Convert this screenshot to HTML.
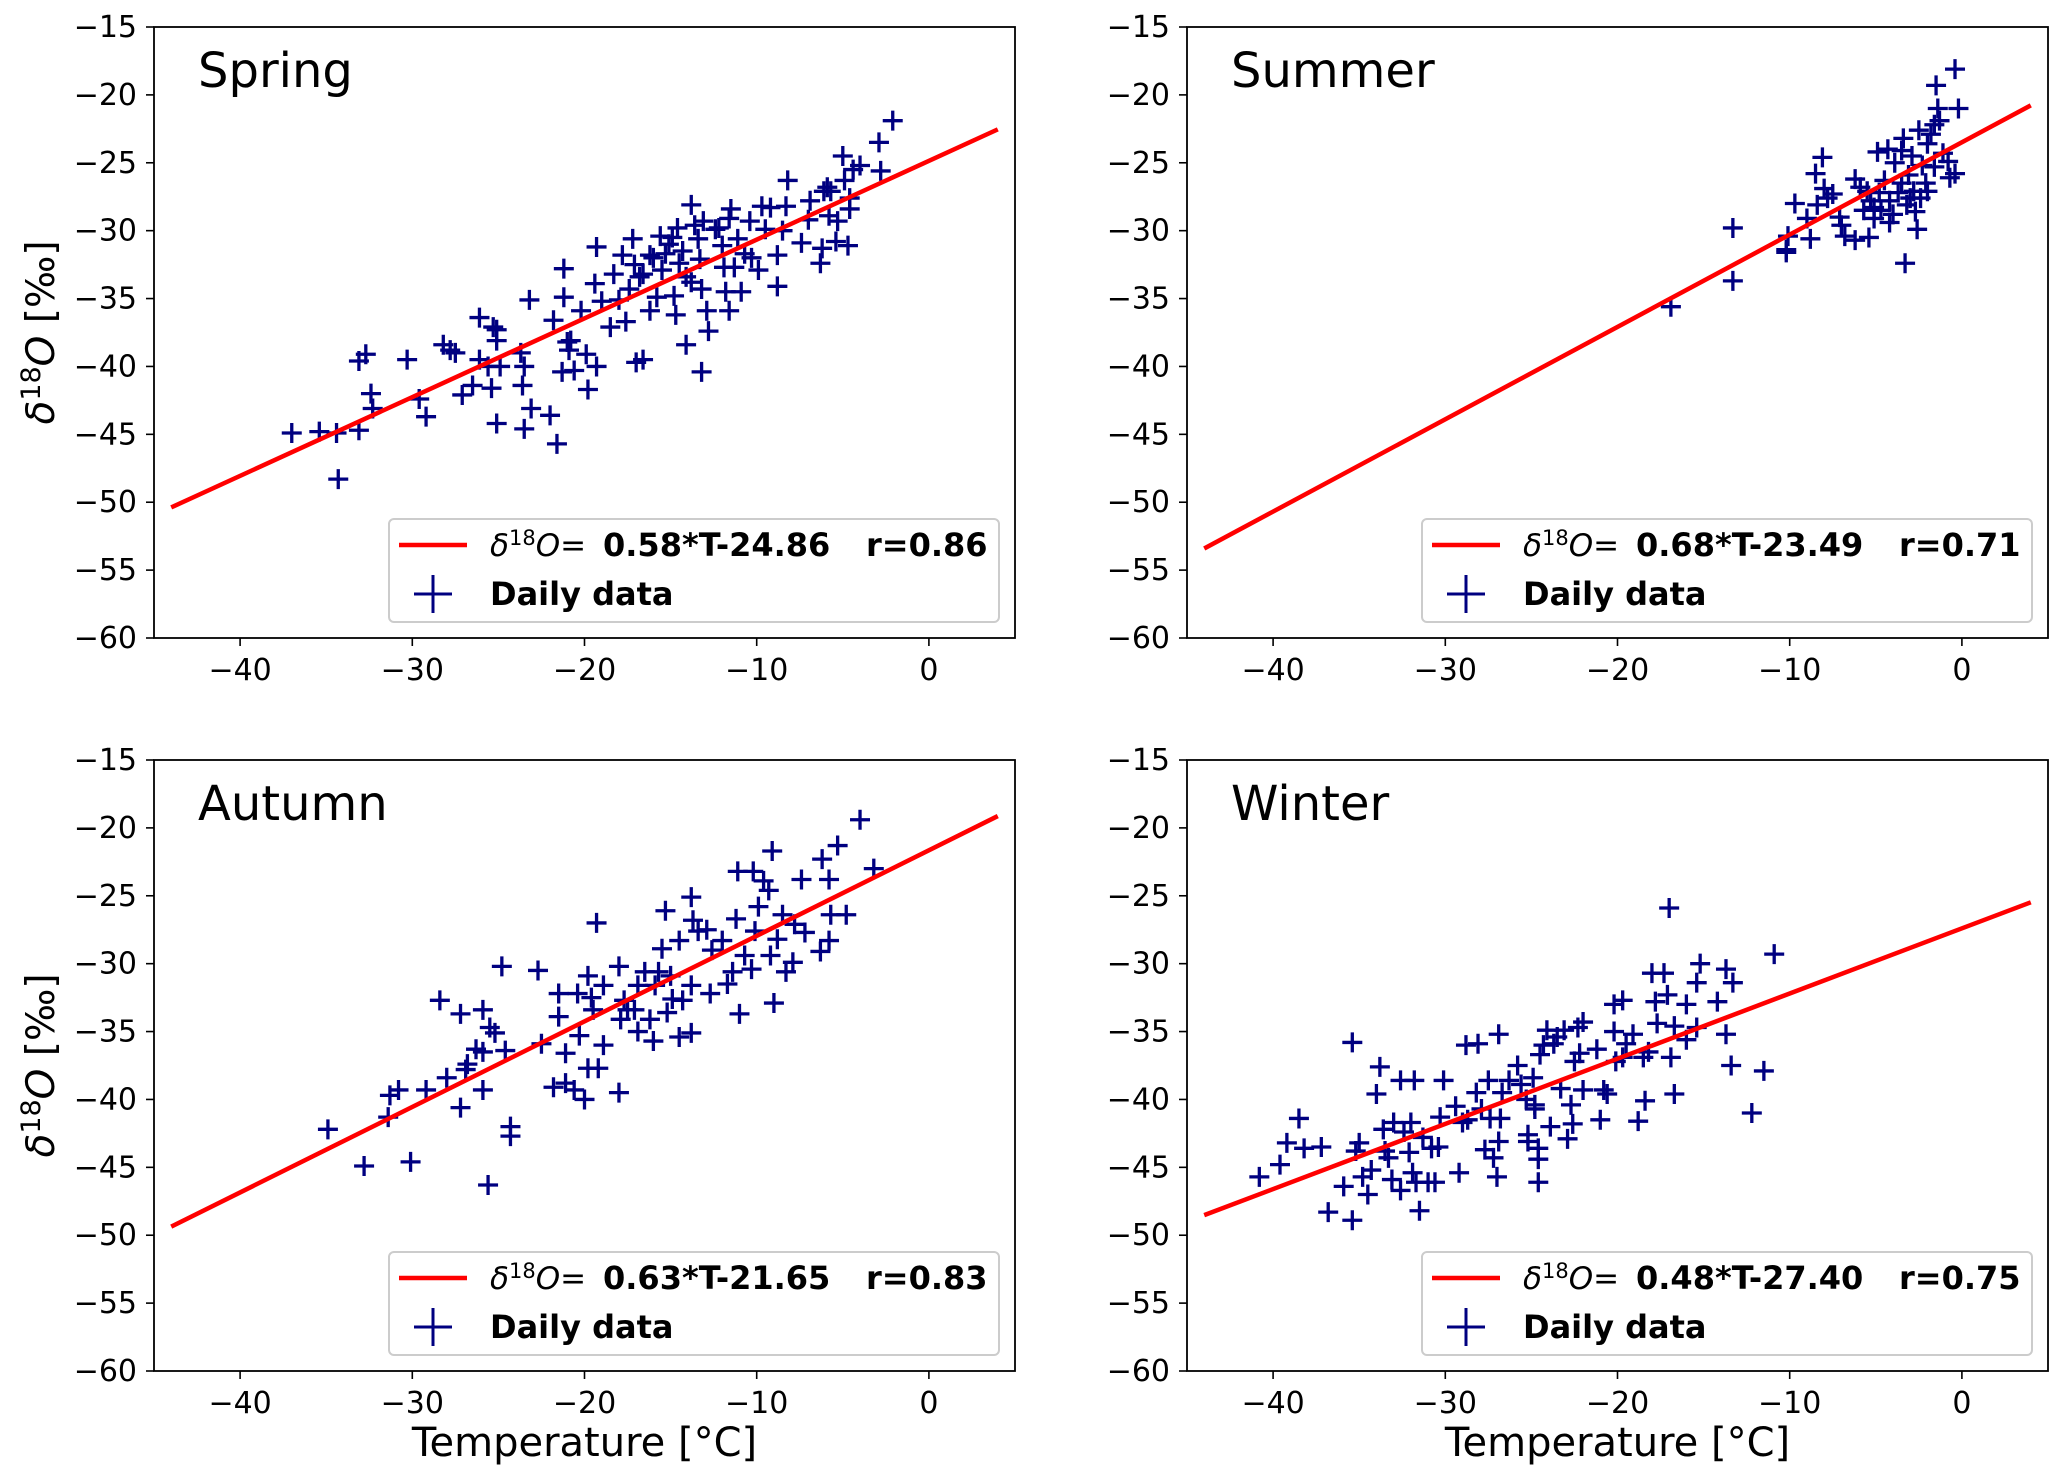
<!DOCTYPE html>
<html><head><meta charset="utf-8"><style>
html,body{margin:0;padding:0;background:#fff;}
svg{display:block;font-family:"DejaVu Sans","Liberation Sans",sans-serif;}
</style></head><body>
<svg id="fig" width="2067" height="1484" viewBox="0 0 2067 1484" xmlns="http://www.w3.org/2000/svg"></svg>
<script>
const xTicks=[-40,-30,-20,-10,0];
const yTicks=[-15,-20,-25,-30,-35,-40,-45,-50,-55,-60];
const panelNames=["Spring","Summer","Autumn","Winter"];
const slopes=[0.58,0.68,0.63,0.48];
const intercepts=[-24.86,-23.49,-21.65,-27.40];
const rValues=["0.86","0.71","0.83","0.75"];
const springT=[-37.0,-35.4,-34.4,-34.3,-33.1,-33.1,-32.7,-32.4,-32.3,-30.3,-29.6,-29.2,-28.2,-27.8,-27.5,-27.1,-26.5,-26.1,-26.1,-25.6,-25.4,-25.3,-25.1,-25.1,-25.1,-24.9,-23.7,-23.6,-23.5,-23.5,-23.2,-23.1,-22.0,-21.6,-21.8,-21.2,-21.2,-21.3,-21.0,-20.9,-20.8,-20.6,-20.2,-19.9,-19.8,-19.3,-19.4,-19.3,-19.0,-18.5,-18.3,-18.0,-17.8,-17.6,-17.4,-17.2,-17.1,-17.0,-16.6,-16.8,-16.6,-16.2,-16.0,-16.2,-15.8,-15.6,-15.5,-15.3,-15.1,-14.9,-14.8,-14.7,-14.6,-14.5,-14.3,-14.1,-14.1,-13.8,-13.8,-13.6,-13.4,-13.3,-13.2,-13.2,-13.1,-12.9,-12.8,-12.4,-12.2,-12.0,-11.9,-11.8,-11.6,-11.5,-11.6,-11.3,-11.1,-10.9,-10.7,-10.4,-10.3,-9.9,-9.7,-9.5,-9.2,-8.8,-8.8,-8.5,-8.3,-8.2,-7.4,-7.0,-6.9,-6.3,-6.2,-5.9,-5.7,-5.4,-5.3,-5.0,-4.9,-4.7,-4.6,-4.6,-4.4,-4.0,-2.9,-2.8,-2.1,-5.8,-6.1];
const springD=[-44.9,-44.8,-44.9,-48.3,-44.7,-39.6,-39.1,-42.0,-43.1,-39.5,-42.4,-43.7,-38.4,-38.8,-39.0,-42.1,-41.4,-36.4,-39.5,-40.0,-41.6,-37.1,-37.3,-38.1,-44.2,-40.0,-39.0,-41.4,-40.0,-44.6,-35.1,-43.1,-43.6,-45.7,-36.6,-32.8,-34.9,-40.4,-38.2,-38.8,-38.1,-40.3,-35.9,-39.1,-41.7,-40.0,-33.9,-31.2,-35.2,-37.1,-33.2,-35.1,-31.8,-36.7,-34.3,-30.6,-32.5,-39.7,-39.5,-33.4,-33.2,-31.8,-32.0,-35.9,-34.9,-30.4,-32.9,-31.7,-31.0,-30.5,-34.8,-36.2,-29.8,-32.4,-31.5,-33.4,-38.4,-28.1,-33.8,-29.6,-30.6,-32.1,-40.4,-34.3,-29.3,-35.9,-37.4,-29.9,-29.8,-31.1,-32.7,-34.5,-29.1,-28.4,-35.9,-32.7,-30.6,-34.5,-31.7,-29.3,-32.0,-32.9,-28.2,-29.9,-28.3,-31.8,-34.1,-30.0,-28.2,-26.3,-30.9,-29.2,-27.8,-32.4,-31.3,-26.8,-27.1,-30.8,-29.3,-24.5,-26.3,-31.1,-27.6,-28.4,-25.5,-25.2,-23.5,-25.6,-21.9,-28.9,-27.1];
const summerT=[-16.9,-13.3,-13.3,-10.2,-10.2,-10.1,-9.7,-8.8,-9.0,-8.5,-8.4,-8.1,-8.0,-7.8,-7.5,-7.1,-7.0,-6.8,-6.2,-6.2,-5.9,-5.7,-5.4,-5.3,-5.1,-4.9,-4.8,-4.7,-4.5,-4.3,-4.2,-4.0,-3.9,-3.7,-3.5,-3.3,-3.4,-3.2,-3.1,-2.9,-2.8,-2.6,-2.5,-2.4,-2.3,-2.1,-2.0,-1.8,-1.6,-1.6,-1.5,-1.4,-1.3,-1.1,-0.8,-0.7,-0.4,-0.4,-0.2,-5.1,-4.2,-5.5,-2.7,-3.5,-2.0,-3.0];
const summerD=[-35.6,-29.8,-33.7,-31.6,-31.4,-30.4,-28.0,-30.6,-29.1,-25.8,-28.1,-24.6,-26.9,-27.6,-27.3,-29.0,-29.6,-30.4,-30.7,-26.2,-26.8,-28.5,-30.5,-27.8,-29.1,-24.2,-27.2,-28.5,-26.3,-24.0,-27.8,-28.8,-25.0,-27.2,-26.5,-32.4,-23.2,-28.1,-25.9,-24.5,-27.1,-29.9,-22.6,-27.6,-25.2,-26.5,-23.6,-22.9,-22.2,-25.3,-19.3,-21.0,-21.9,-24.3,-24.9,-26.1,-18.1,-25.8,-21.0,-28.3,-29.4,-27.1,-28.6,-24.1,-27.1,-27.6];
const autumnT=[-34.9,-32.8,-30.1,-25.6,-31.4,-31.3,-30.8,-29.2,-28.4,-28.0,-27.2,-27.2,-26.9,-26.8,-26.3,-25.9,-25.9,-25.9,-25.5,-25.2,-24.8,-24.6,-24.3,-24.3,-22.7,-22.5,-21.8,-21.5,-21.5,-21.1,-21.1,-20.6,-20.4,-20.3,-20.0,-19.8,-19.8,-19.6,-19.5,-19.3,-19.2,-18.9,-18.9,-18.0,-18.0,-17.9,-17.7,-17.5,-17.1,-16.9,-16.9,-16.5,-16.2,-16.0,-15.9,-15.7,-15.5,-15.3,-15.2,-15.0,-14.9,-14.5,-14.5,-14.3,-13.8,-13.8,-13.8,-13.7,-13.4,-12.9,-12.7,-12.6,-12.0,-11.7,-11.4,-11.2,-11.0,-11.1,-10.7,-10.3,-10.2,-10.1,-9.9,-9.6,-9.3,-9.2,-9.1,-9.0,-8.8,-8.5,-8.3,-7.9,-7.8,-7.4,-7.2,-6.3,-6.2,-5.8,-5.8,-5.7,-5.3,-4.8,-4.0,-3.2];
const autumnD=[-42.2,-44.9,-44.6,-46.3,-41.3,-39.7,-39.3,-39.3,-32.7,-38.4,-33.7,-40.6,-37.8,-37.4,-36.3,-39.3,-33.4,-36.5,-34.7,-35.1,-30.2,-36.4,-42.0,-42.7,-30.5,-35.9,-39.1,-32.2,-33.9,-36.6,-38.8,-39.3,-32.2,-35.3,-40.0,-30.9,-37.7,-32.5,-33.4,-27.0,-37.7,-31.6,-36.0,-39.5,-30.2,-34.1,-32.7,-33.4,-33.4,-35.0,-31.6,-30.6,-34.1,-35.7,-31.6,-30.6,-28.9,-26.1,-33.6,-30.9,-32.6,-35.4,-28.3,-32.7,-25.1,-31.6,-35.1,-26.8,-27.6,-27.5,-32.2,-29.0,-28.3,-31.5,-30.6,-26.7,-33.7,-23.2,-29.4,-30.4,-23.2,-27.6,-25.8,-23.9,-24.6,-29.4,-21.7,-32.9,-28.2,-26.4,-30.6,-29.9,-27.1,-23.8,-27.7,-29.1,-22.3,-28.3,-23.8,-26.4,-21.3,-26.4,-19.4,-23.0];
const winterT=[-40.8,-39.6,-39.2,-38.5,-38.2,-37.2,-36.8,-35.9,-35.4,-35.4,-35.2,-35.0,-34.8,-34.5,-34.3,-34.0,-33.8,-33.6,-33.5,-33.3,-33.1,-33.0,-32.6,-32.6,-32.4,-32.1,-32.0,-31.9,-31.8,-31.7,-31.5,-31.3,-31.0,-30.8,-30.6,-30.4,-30.3,-30.1,-29.4,-29.2,-29.0,-28.8,-28.7,-28.2,-28.1,-27.9,-27.7,-27.5,-27.4,-27.2,-27.0,-26.9,-26.9,-26.8,-26.7,-26.3,-25.8,-25.6,-25.3,-25.2,-25.2,-24.9,-24.8,-24.8,-24.6,-24.6,-24.6,-24.5,-24.3,-24.1,-23.9,-23.7,-23.5,-23.3,-23.1,-22.9,-22.7,-22.6,-22.5,-22.3,-22.2,-22.0,-22.0,-21.2,-21.0,-20.8,-20.6,-20.2,-20.2,-20.1,-19.7,-19.7,-19.5,-19.1,-18.8,-18.5,-18.4,-18.2,-18.0,-17.8,-17.7,-17.3,-17.1,-17.0,-16.9,-16.7,-16.7,-16.0,-16.0,-15.4,-15.2,-15.4,-14.2,-13.7,-13.7,-13.4,-13.3,-12.2,-11.5,-10.9];
const winterD=[-45.7,-44.8,-43.2,-41.4,-43.6,-43.5,-48.3,-46.4,-48.9,-35.8,-43.8,-43.2,-45.7,-47.0,-45.2,-39.6,-37.6,-42.2,-43.8,-44.3,-45.9,-41.7,-38.6,-46.7,-42.4,-43.9,-41.7,-45.4,-38.6,-46.1,-48.2,-42.8,-46.1,-43.6,-46.1,-43.5,-41.3,-38.6,-40.5,-45.4,-41.7,-36.0,-41.5,-39.5,-35.9,-40.7,-43.7,-38.6,-41.4,-44.3,-45.7,-35.2,-43.1,-41.4,-39.5,-38.6,-37.5,-38.9,-40.0,-42.6,-43.1,-38.4,-40.7,-40.4,-43.6,-44.4,-46.1,-36.7,-36.0,-34.9,-42.0,-35.9,-35.4,-39.2,-34.9,-42.9,-40.4,-41.8,-37.2,-34.7,-36.6,-39.3,-34.3,-36.3,-41.5,-39.3,-39.6,-35.0,-33.0,-37.2,-32.7,-36.9,-35.9,-35.2,-41.6,-36.9,-40.1,-36.5,-30.7,-32.8,-34.4,-30.7,-32.3,-25.9,-36.9,-39.6,-34.6,-33.0,-35.6,-31.4,-30.0,-34.7,-32.8,-30.4,-35.2,-37.5,-31.4,-41.0,-37.9,-29.3];
const seriesT=[springT,summerT,autumnT,winterT];
const seriesD=[springD,summerD,autumnD,winterD];

const NS="http://www.w3.org/2000/svg";
const svg=document.getElementById('fig');
function mk(tag,attrs,parent){const e=document.createElementNS(NS,tag);for(const k in attrs)e.setAttribute(k,attrs[k]);(parent||svg).appendChild(e);return e;}
const PW=861,PH=611,XMIN=-45,XMAX=5,YMIN=-60,YMAX=-15;
const origins=[[154,27],[1187,27],[154,760],[1187,760]];

origins.forEach((o,p)=>{
  const [L,T]=o;
  const sx=v=>L+(v-XMIN)/(XMAX-XMIN)*PW;
  const sy=v=>T+(YMAX-v)/(YMAX-YMIN)*PH;
  const g=mk('g',{});
  
  
  const cid='clip'+p;
  const cp=mk('clipPath',{id:cid},g);mk('rect',{x:L,y:T,width:PW,height:PH},cp);
  xTicks.forEach(t=>{
    const x=sx(t);
    const tk=mk('line',{x1:x,x2:x,y1:T+PH,y2:T+PH+8,stroke:'#000','stroke-width':1.6},g);
    
    
    const tx=mk('text',{x:x,y:T+PH+42,'font-size':30,'text-anchor':'middle',fill:'#000'},g);
    tx.textContent=(t<0?'\u2212':'')+Math.abs(t);
    
    
  });
  yTicks.forEach(t=>{
    const y=sy(t);
    const tk=mk('line',{x1:L-8,x2:L,y1:y,y2:y,stroke:'#000','stroke-width':1.6},g);
    
    
    const tx=mk('text',{x:L-17,y:y+10,'font-size':30,'text-anchor':'end',fill:'#000'},g);
    tx.textContent=(t<0?'\u2212':'')+Math.abs(t);
    
    
  });
  const pg=mk('g',{'clip-path':'url(#'+cid+')'},g);
  
  
  const Ts=seriesT[p],Ds=seriesD[p];
  for(let i=0;i<Ts.length;i++){
    const x=sx(Ts[i]),y=sy(Ds[i]),h=10;
    const pt=mk('path',{d:`M${x-h},${y}H${x+h}M${x},${y-h}V${y+h}`,stroke:'#000080','stroke-width':3.3,fill:'none'},pg);
    
    
  }
  const ln=mk('line',{x1:sx(-44),y1:sy(slopes[p]*-44+intercepts[p]),x2:sx(4),y2:sy(slopes[p]*4+intercepts[p]),stroke:'#ff0000','stroke-width':4.5,'clip-path':'url(#'+cid+')'},g);
  
  
  const fr=mk('rect',{x:L,y:T,width:PW,height:PH,fill:'none',stroke:'#000','stroke-width':1.8},g);
  
  
  const tt=mk('text',{x:L+44,y:T+60,'font-size':48,fill:'#000'},g);
  tt.textContent=panelNames[p];
  
  
  const lg=mk('g',{},g);
  
  
  mk('rect',{x:L+235,y:T+492,width:610,height:103,rx:5,fill:'#fff','fill-opacity':0.85,stroke:'#cccccc','stroke-width':2},lg);
  mk('line',{x1:L+245,x2:L+313,y1:T+518,y2:T+518,stroke:'#ff0000','stroke-width':4.5},lg);
  mk('path',{d:`M${L+260},${T+567}H${L+298}M${L+279},${T+548}V${T+586}`,stroke:'#000080','stroke-width':3,fill:'none'},lg);
  const eq=mk('text',{x:L+336,y:T+529,'font-size':31,fill:'#000'},lg);
  
  
  eq.innerHTML='<tspan font-style="italic">δ</tspan><tspan dy="-11" font-size="21">18</tspan><tspan dy="11" font-style="italic">O</tspan><tspan>=</tspan>';
  const eb=mk('text',{x:L+449,y:T+529,'font-size':32,'font-weight':'bold',fill:'#000'},lg);
  eb.textContent=slopes[p].toFixed(2)+'*T'+intercepts[p].toFixed(2);
  const er=mk('text',{x:L+712,y:T+529,'font-size':32,'font-weight':'bold',fill:'#000'},lg);
  er.textContent='r='+rValues[p];
  const dd=mk('text',{x:L+336,y:T+578,'font-size':32,'font-weight':'bold',fill:'#000'},lg);
  dd.textContent='Daily data';
  
  
  if(p%2===0){
    const yl=mk('text',{x:0,y:0,'font-size':39,'text-anchor':'middle',fill:'#000',transform:`translate(54,${T+PH/2}) rotate(-90)`},g);
    
    
    yl.innerHTML='<tspan font-style="italic">δ</tspan><tspan dy="-14" font-size="27">18</tspan><tspan dy="14" font-style="italic">O</tspan><tspan> [‰]</tspan>';
  }
  if(p>=2){
    const xl=mk('text',{x:L+PW/2,y:1456,'font-size':40,'text-anchor':'middle',fill:'#000'},g);
    xl.textContent='Temperature [°C]';
    
    
  }
});
</script>
</body></html>
